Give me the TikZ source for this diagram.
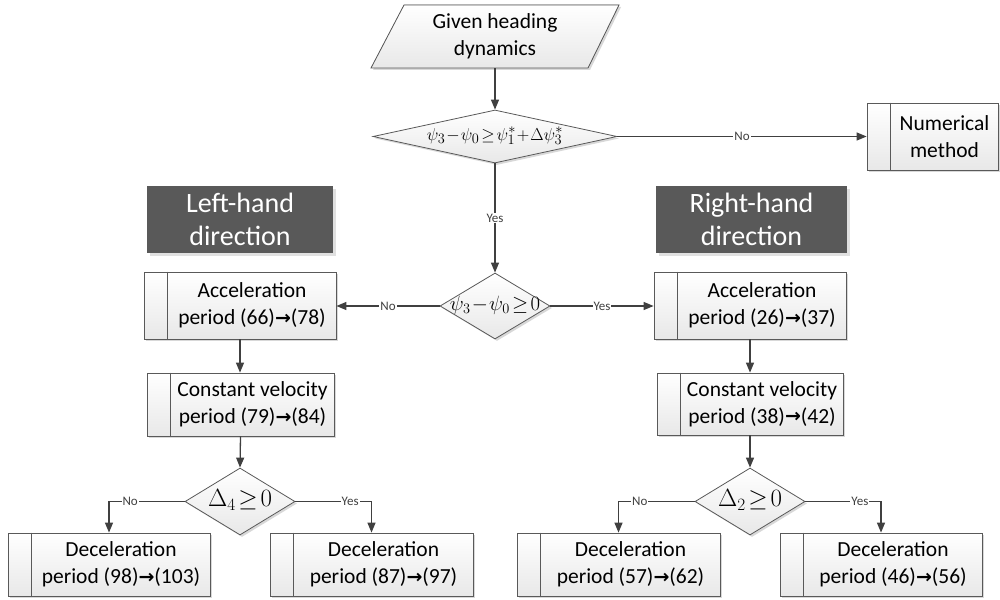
\documentclass[tikz,border=0pt]{standalone}
\usepackage{fontspec}
\setmainfont{Carlito}
\newfontfamily\symf{DejaVu Sans}
\usetikzlibrary{shapes.geometric,arrows.meta,shadows}
\definecolor{ln}{HTML}{404040}
\definecolor{bd}{HTML}{595959}
\definecolor{hdr}{HTML}{595959}
\definecolor{boxb}{HTML}{E8E8E8}
\newcommand\arr{\raisebox{0.5pt}{\symf\bfseries\fontsize{19}{19}\selectfont →}}
\newcommand\mkproc[6]{%
  \node[proc, minimum width={#4-#2}, minimum height={#5-#3}] (#1) at ({(#2+#4)/2},{(#3+#5)/2}) {};
  \draw[bd, line width=0.8pt] ([xshift=24pt]#1.north west) -- ([xshift=24pt]#1.south west);
  \node[ptext] (#1t) at ([xshift=12pt]#1.center) {#6};
}
\newcommand\mkhdr[6]{%
  \node[hdrbox, minimum width={#4-#2}, minimum height={#5-#3}] (#1) at ({(#2+#4)/2},{(#3+#5)/2}) {#6};
}
\begin{document}
\begin{tikzpicture}[x=1pt,y=-1pt,
  shd/.style={drop shadow={shadow xshift=2pt,shadow yshift=-2pt,fill=black!30,opacity=.5}},
  proc/.style={rectangle, draw=bd, line width=0.8pt, top color=white, bottom color=boxb, shd, inner sep=0pt},
  ptext/.style={inner sep=0pt, align=center, font=\fontsize{21.5}{27}\selectfont, text=black},
  hdrbox/.style={rectangle, fill=hdr, drop shadow={shadow xshift=3pt,shadow yshift=-3pt,fill=black!20,opacity=.6}, inner sep=0pt, align=center, text=white, font=\fontsize{28}{33}\selectfont},
  dec/.style={diamond, draw=bd, line width=0.8pt, top color=white, bottom color=boxb, shd, inner sep=0pt, aspect=1},
  mtext/.style={inner sep=0pt, text=black},
  conn/.style={draw=ln, line width=1.3pt, -{Triangle[length=10pt,width=8pt]}},
  lbl/.style={fill=white, inner sep=1pt, text=ln, font=\fontsize{13}{13}\selectfont}
]
\useasboundingbox (0,0) rectangle (1000,599);

% start parallelogram
\coordinate (p1) at (371,68);
\coordinate (p2) at (404,5);
\coordinate (p3) at (619,5);
\coordinate (p4) at (588,68);
\filldraw[draw=bd, line width=0.8pt, top color=white, bottom color=boxb, shd] (p1) -- (p2) -- (p3) -- (p4) -- cycle;
\node[inner sep=0pt, minimum width=200, minimum height=63, align=center, font=\fontsize{21.5}{27}\selectfont] (start) at (495,36.5) {Given heading\\dynamics};

% decisions
\node[dec, minimum width=244, minimum height=53] (d1) at (495,136.5) {};
\node[mtext, font=\fontsize{19}{19}\selectfont] (d1t) at (495,136) {$\psi_3\!-\!\psi_0\!\geq\!\psi_1^*\!+\!\Delta\psi_3^*$};
\node[dec, minimum width=110, minimum height=66] (d2) at (495,306) {};
\node[mtext, font=\fontsize{21}{21}\selectfont] (d2t) at (495,305) {$\psi_3\!-\!\psi_0\!\geq\!0$};
\node[dec, minimum width=110, minimum height=67] (d3) at (240,501.5) {};
\node[mtext, font=\fontsize{23}{23}\selectfont] (d3t) at (240,500) {$\Delta_4\!\geq\!0$};
\node[dec, minimum width=110, minimum height=67] (d4) at (750,501.5) {};
\node[mtext, font=\fontsize{23}{23}\selectfont] (d4t) at (750,500) {$\Delta_2\!\geq\!0$};

% headers
\mkhdr{hl}{147}{186}{333}{253}{Left-hand\\direction}
\mkhdr{hr}{656}{186}{847}{253}{Right-hand\\direction}

% process boxes
\mkproc{num}{867}{103}{998}{170}{Numerical\\method}
\mkproc{la}{144}{272}{336}{339}{Acceleration\\period (66)\arr(78)}
\mkproc{lc}{147}{373}{334}{436}{Constant velocity\\period (79)\arr(84)}
\mkproc{ld1}{8}{533}{210}{596}{Deceleration\\period (98)\arr(103)}
\mkproc{ld2}{270}{533}{473}{596}{Deceleration\\period (87)\arr(97)}
\mkproc{ra}{654}{272}{846}{339}{Acceleration\\period (26)\arr(37)}
\mkproc{rc}{657}{373}{843}{435}{Constant velocity\\period (38)\arr(42)}
\mkproc{rd1}{517}{533}{720}{596}{Deceleration\\period (57)\arr(62)}
\mkproc{rd2}{780}{533}{982}{596}{Deceleration\\period (46)\arr(56)}

% connectors
\draw[conn] (start.south) -- (d1.north);
\draw[conn] (d1.east) -- node[lbl] {No} (d1.east -| num.west);
\draw[conn] (d1.south) -- node[lbl] {Yes} (d2.north);
\draw[conn] (d2.west) -- node[lbl] {No} (d2.west -| la.east);
\draw[conn] (d2.east) -- node[lbl] {Yes} (d2.east -| ra.west);
\draw[conn] (la.south) -- (la.south |- lc.north);
\draw[conn] (lc.south) -- (d3.north);
\draw[conn] (d3.west) -| node[lbl, pos=0.36] {No} (ld1.north);
\draw[conn] (d3.east) -| node[lbl, pos=0.36] {Yes} (ld2.north);
\draw[conn] (ra.south) -- (ra.south |- rc.north);
\draw[conn] (rc.south) -- (d4.north);
\draw[conn] (d4.west) -| node[lbl, pos=0.36] {No} (rd1.north);
\draw[conn] (d4.east) -| node[lbl, pos=0.36] {Yes} (rd2.north);
\end{tikzpicture}
\end{document}
